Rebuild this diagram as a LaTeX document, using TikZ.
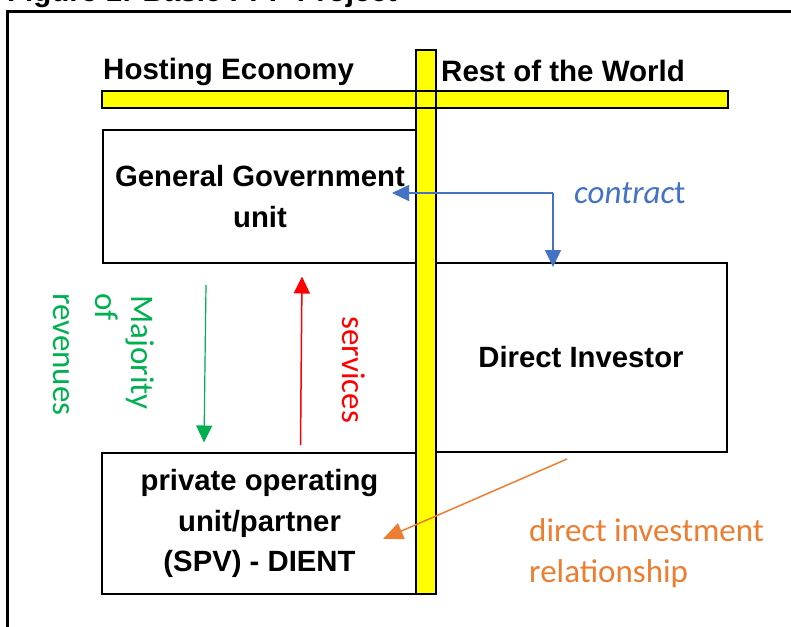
\documentclass[tikz,border=0pt]{standalone}
\usepackage{fontspec}
\setmainfont{Liberation Sans}
\newfontfamily\calibrifont{Carlito}
\usetikzlibrary{arrows.meta}
\definecolor{barYellow}{RGB}{255,255,0}
\definecolor{cBlue}{RGB}{68,114,196}
\definecolor{cGreen}{RGB}{0,176,80}
\definecolor{cRed}{RGB}{255,0,0}
\definecolor{cOrange}{RGB}{237,125,49}
\begin{document}
\begin{tikzpicture}[x=1pt,y=-1pt,
  unitbox/.style={draw=black, line width=2.5pt, fill=white, inner sep=0pt, align=center,
    font=\fontsize{29.3}{40.5}\selectfont\bfseries},
  headtext/.style={font=\fontsize{29.5}{34}\selectfont\bfseries, anchor=base west, inner sep=0pt},
  caltext/.style={font=\calibrifont\fontsize{33}{41}\selectfont, inner sep=0pt, anchor=base west},
  barline/.style={draw=black, line width=2.5pt},
  flowarrow/.style={-{Triangle[length=17pt,width=16pt]}, line width=1.2pt}
]
\useasboundingbox (0,0) rectangle (791,626);

% title (cut off at top)
\node[headtext] (title) at (7,2) {Figure 1: Basic PPP Project};
% outer frame
\draw[line width=3pt] (800,11.5) -- (7.5,11.5) -- (7.5,640);

% boxes
\node[unitbox, minimum width=314pt, minimum height=133pt] (gg) at (260,196.5) {General Government\\unit};
\node[unitbox, minimum width=315pt, minimum height=141pt] (spv) at (259.5,523.5) {private operating\\unit/partner\\(SPV) - DIENT};
\node[unitbox, minimum width=292pt, minimum height=189pt] (di) at (581,357.5) {Direct Investor};

% yellow bars
\fill[barYellow] (102,91) rectangle (728,108);
\fill[barYellow] (416,50) rectangle (436,594);
\draw[barline] (102,91) rectangle (728,108);
\draw[barline] (416,50) rectangle (436,594);

% headers
\node[headtext] (host) at (103,79) {Hosting Economy};
\node[headtext] (rest) at (441,81.5) {Rest of the World};

% contract arrows
\coordinate (cbend) at (553,193);
\coordinate (ggin) at (392,193);
\coordinate (diin) at (553,267);
\draw[flowarrow, draw=cBlue, fill=cBlue] (cbend) -- (ggin);
\draw[flowarrow, draw=cBlue, fill=cBlue] (cbend) -- (diin);
\node[caltext, text=cBlue] (contract) at (574,203) {\textit{contrac}t};

% revenues arrow
\coordinate (gtop) at (206,285);
\coordinate (gbot) at (204,442.5);
\draw[flowarrow, draw=cGreen, fill=cGreen] (gtop) -- (gbot);
\node[caltext, text=cGreen, rotate=-90] (maj1) at (131,295) {Majority};
\node[caltext, text=cGreen, rotate=-90] (maj2) at (95,293) {of};
\node[caltext, text=cGreen, rotate=-90] (maj3) at (53,293) {revenues};

% services arrow
\coordinate (rbot) at (300.5,445);
\coordinate (rtop) at (302,276.5);
\draw[flowarrow, draw=cRed, fill=cRed, line width=1.5pt] (rbot) -- (rtop);
\node[caltext, text=cRed, rotate=-90] (serv) at (342,316) {services};

% direct investment relationship
\coordinate (ostart) at (567,459);
\coordinate (otip) at (383,539);
\draw[-{Triangle[length=20pt,width=17pt]}, line width=1.5pt, draw=cOrange, fill=cOrange] (ostart) -- (otip);
\node[caltext, text=cOrange] (dir1) at (529,541) {direct investment};
\node[caltext, text=cOrange] (dir2) at (529,582) {relationship};
\end{tikzpicture}
\end{document}
